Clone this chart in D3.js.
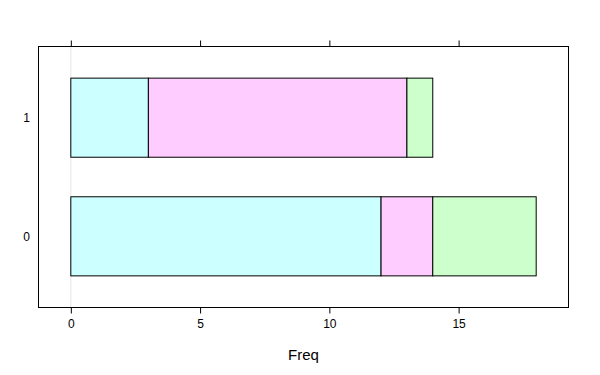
<!DOCTYPE html>
<html><head><meta charset="utf-8">
<script src="https://cdn.jsdelivr.net/npm/d3@7"></script>
<style>body{margin:0;background:#fff}svg{display:block}text{font-family:"Liberation Sans",Arial,sans-serif}</style>
</head><body><svg id="c" width="600" height="375"></svg>
<script>
const categories = ["0", "1"];
const groups = ["A", "B", "C"];
const valuesA = [12, 3];
const valuesB = [2, 10];
const valuesC = [4, 1];
const xTicks = [0, 5, 10, 15];
const colors = ["#CCFFFF", "#FFCCFF", "#CCFFCC"];

(function () {
const svg = d3.select("#c");
const L = 38.5, R = 568.5, T = 46.5, B = 307.5;
const x = d3.scaleLinear().domain([-1.25, 19.25]).range([L, R]);
const y = d3.scaleLinear().domain([0.4, 2.6]).range([B, T]);

// reference line at 0
svg.append("line").attr("x1", x(0)).attr("x2", x(0)).attr("y1", T).attr("y2", B)
  .attr("stroke", "#e6e6e6").attr("stroke-width", 1);

const series = [valuesA, valuesB, valuesC];
const rows = categories.map((c, i) => {
  let acc = 0;
  return series.map((s, j) => { const r = {cat: c, idx: i, j, x0: acc, x1: acc + s[i]}; acc += s[i]; return r; });
}).flat();

const bh = 2/3;
svg.selectAll("rect.bar").data(rows).enter().append("rect")
  .attr("x", d => x(d.x0))
  .attr("width", d => x(d.x1) - x(d.x0))
  .attr("y", d => y(d.idx + 1 + bh/2))
  .attr("height", d => y(d.idx + 1 - bh/2) - y(d.idx + 1 + bh/2))
  .attr("fill", d => colors[d.j])
  .attr("stroke", "#000").attr("stroke-width", 1);

// panel border
svg.append("rect").attr("x", L).attr("y", T).attr("width", R - L).attr("height", B - T)
  .attr("fill", "none").attr("stroke", "#000").attr("stroke-width", 1);

// axes
const gBottom = svg.append("g").attr("transform", `translate(0,${B})`)
  .call(d3.axisBottom(x).tickValues(xTicks).tickSize(6).tickPadding(6).tickSizeOuter(0));
const gTop = svg.append("g").attr("transform", `translate(0,${T})`)
  .call(d3.axisTop(x).tickValues(xTicks).tickSize(6).tickFormat("").tickSizeOuter(0));
[gBottom, gTop].forEach(g => {
  g.select(".domain").remove();
  g.selectAll("line").attr("stroke", "#000");
  g.selectAll("text").attr("font-size", 12).attr("fill", "#000").attr("font-family", "Liberation Sans, Arial, sans-serif");
});

// y labels
svg.selectAll("text.ylab").data(categories).enter().append("text")
  .attr("x", 30).attr("y", (d, i) => y(i + 1)).attr("dy", "0.35em")
  .attr("text-anchor", "end").attr("font-size", 12).text(d => d);

svg.append("text").attr("x", (x(-1.25) + x(19.25)) / 2).attr("y", 360)
  .attr("text-anchor", "middle").attr("font-size", 15).text("Freq");
})();
</script></body></html>
